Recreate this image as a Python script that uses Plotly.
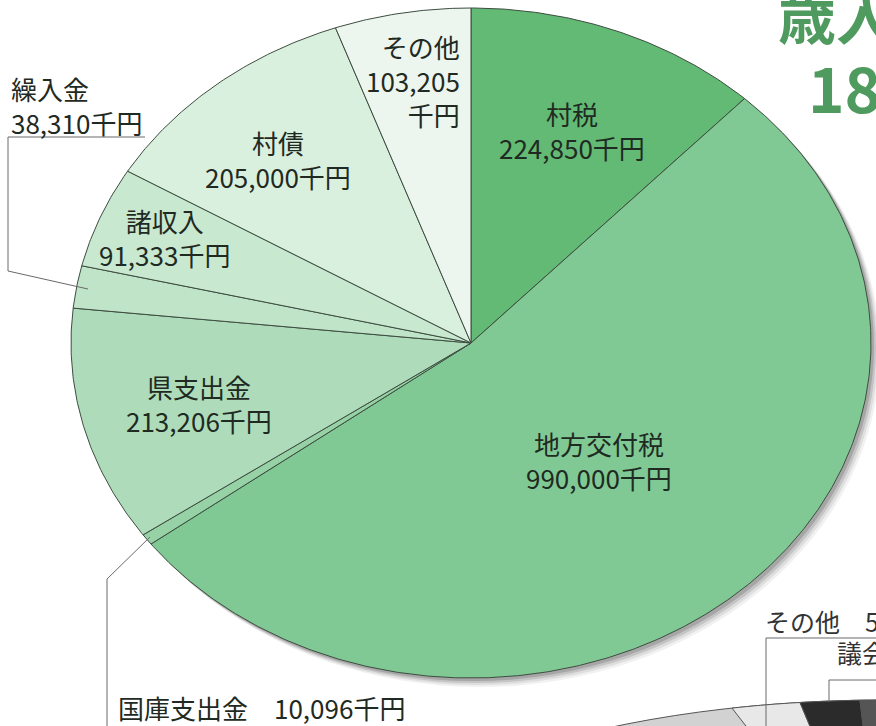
import numpy as np
import plotly.graph_objects as go

# ---- data ----
categories = ["村税", "地方交付税", "国庫支出金", "県支出金", "繰入金", "諸収入", "村債", "その他"]
values = [224850, 990000, 10096, 213206, 38310, 91333, 205000, 103205]
unit = "千円"
slice_colors = ["#63ba74", "#80c994", "#96d2a5", "#aedcba", "#c0e4c8", "#c8e8d0", "#daf0de", "#ecf6ee"]

W, H = 876, 726
CX, CY, RX, RY = 471, 343, 400, 335
FONT = "Noto Sans CJK JP"
TXT = "#1f2a22"

fig = go.Figure()

# slices (clockwise from 12 o'clock), drawn through the axes
total = float(sum(values))
cum = 0.0
for name, v, col in zip(categories, values, slice_colors):
    t0 = cum / total * 2 * np.pi
    cum += v
    t1 = cum / total * 2 * np.pi
    n = max(3, int(np.degrees(t1 - t0) * 2))
    th = np.linspace(t0, t1, n)
    xs = np.concatenate([[CX], CX + RX * np.sin(th), [CX]])
    ys = np.concatenate([[CY], CY - RY * np.cos(th), [CY]])
    fig.add_trace(go.Scatter(
        x=xs, y=ys, mode="lines", fill="toself", fillcolor=col,
        line=dict(color="#3d4d40", width=1), name=name,
        hoverinfo="text", text=f"{name} {v:,}{unit}", showlegend=False))

def fmt(v):
    return f"{v:,}{unit}"

# labels: (text, x, y, xanchor/align)
lab = {c: v for c, v in zip(categories, values)}
labels = [
    (f"村税<br>{fmt(lab['村税'])}", 572, 130, "center"),
    (f"地方交付税<br>{fmt(lab['地方交付税'])}", 599, 460, "center"),
    (f"国庫支出金　{fmt(lab['国庫支出金'])}", 116, 707, "left"),
    (f"県支出金<br>{fmt(lab['県支出金'])}", 199, 403, "center"),
    (f"繰入金<br>{fmt(lab['繰入金'])}", 9, 105, "left"),
    (f"諸収入<br>{fmt(lab['諸収入'])}", 164, 237, "center"),
    (f"村債<br>{fmt(lab['村債'])}", 278, 159, "center"),
    (f"その他<br>{lab['その他']:,}<br>{unit}", 462, 80, "right"),
]
annotations = []
for t, x, y, xa in labels:
    annotations.append(dict(text=t, x=x, y=y, xref="x", yref="y", xanchor=xa, yanchor="middle", align=xa,
                            showarrow=False, font=dict(family=FONT, size=26, color=TXT)))

# partial title at top right
annotations.append(dict(text="<b>歳入</b>", x=776, y=14, xref="x", yref="y", xanchor="left", yanchor="middle",
                        showarrow=False, font=dict(family=FONT, size=58, color="#4f9a5e")))
annotations.append(dict(text="<b>18</b>", x=806, y=86, xref="x", yref="y", xanchor="left", yanchor="middle",
                        showarrow=False, font=dict(family=FONT, size=62, color="#4f9a5e")))
# partial neighbouring chart labels at bottom right
annotations.append(dict(text="その他　5", x=763, y=621, xref="x", yref="y", xanchor="left", yanchor="middle",
                        showarrow=False, font=dict(family=FONT, size=25, color="#333333")))
annotations.append(dict(text="議会", x=835, y=652, xref="x", yref="y", xanchor="left", yanchor="middle",
                        showarrow=False, font=dict(family=FONT, size=25, color="#333333")))

shapes = []
# drop shadow of the pie
for off, a in [(9, 0.07), (7, 0.10), (5, 0.16), (3, 0.22)]:
    shapes.append(dict(type="circle", xref="x", yref="y", layer="below",
                       x0=CX - RX + off, x1=CX + RX + off, y0=CY - RY + off, y1=CY + RY + off,
                       fillcolor=f"rgba(60,60,60,{a})", line=dict(width=0)))

# neighbouring chart (partial) at the bottom right
PX, PY, PRX, PRY = 885, 905, 550, 205
shapes.append(dict(type="circle", xref="x", yref="y", layer="below",
                   x0=PX - PRX, x1=PX + PRX, y0=PY - PRY, y1=PY + PRY,
                   fillcolor="#d2d2d2", line=dict(color="#555555", width=1)))

def wedge(xa, xb, color):
    xx = np.linspace(xa, xb, 20)
    yy = PY - PRY * np.sqrt(1 - ((xx - PX) / PRX) ** 2)
    p = f"M{PX},{PY} " + " ".join(f"L{x:.1f},{y:.1f}" for x, y in zip(xx, yy)) + " Z"
    return dict(type="path", path=p, xref="x", yref="y", layer="below",
                fillcolor=color, line=dict(color="#555555", width=1))

shapes.append(wedge(732, 800, "#e8e8e8"))
shapes.append(wedge(800, 860, "#2b2b2b"))
shapes.append(wedge(860, 900, "#555555"))

# leader lines
lc = dict(color="#6a6a6a", width=1)
shapes.append(dict(type="path", xref="x", yref="y", path="M145,137 L8,137 L8,271 L88,289", line=lc))
shapes.append(dict(type="path", xref="x", yref="y", path="M150,537 L107,579 L107,730", line=lc))
shapes.append(dict(type="path", xref="x", yref="y", path="M766,730 L766,638 L880,638", line=lc))
shapes.append(dict(type="path", xref="x", yref="y", path="M829,702 L829,680 L880,680", line=lc))

fig.update_layout(
    width=W, height=H, margin=dict(l=0, r=0, t=0, b=0),
    paper_bgcolor="white", plot_bgcolor="white",
    xaxis=dict(range=[0, W], visible=False, fixedrange=True),
    yaxis=dict(range=[H, 0], visible=False, fixedrange=True),
    shapes=shapes, annotations=annotations, showlegend=False,
)

fig.write_html("out.html", config={"displayModeBar": False},
               post_script="document.body.style.margin='0';document.body.style.overflow='hidden';")
